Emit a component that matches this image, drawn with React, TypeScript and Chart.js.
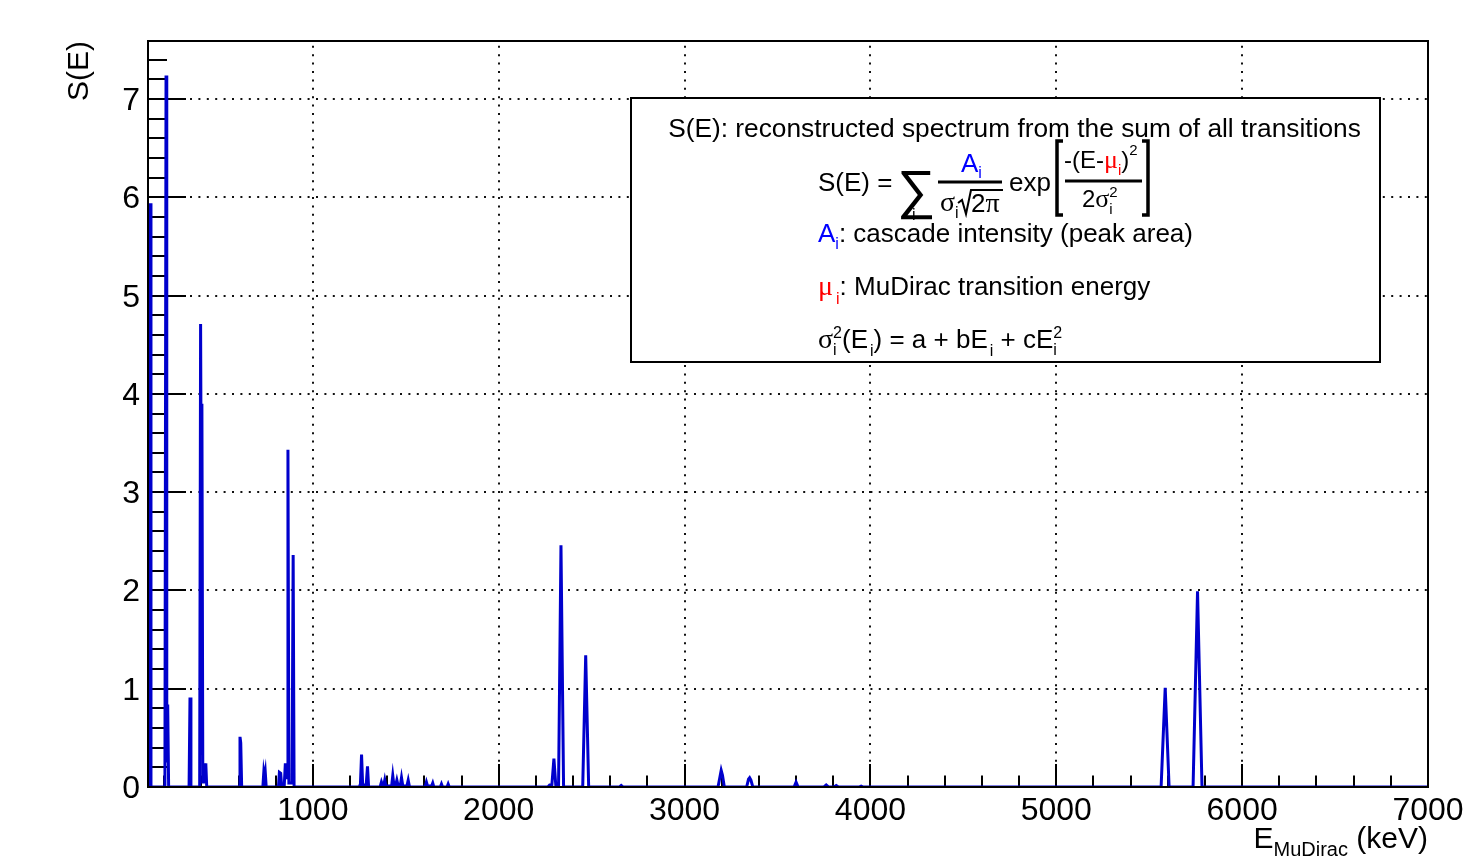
import React, { useEffect, useRef } from "react";
import { Chart, registerables } from "chart.js";
Chart.register(...registerables);

// ---- data ----
const energyKeV = [
  113, 118, 124, 129, 204, 210, 214, 219, 224, 334, 339, 344, 391, 396, 400, 403, 408, 412, 416, 420, 424, 429,
  603, 608, 612, 617, 731, 736, 740, 744, 749, 815, 820, 827, 832, 846, 852, 857, 861, 866, 871, 888, 894, 899,
  1250, 1256, 1262, 1268, 1287, 1294, 1300, 1362, 1369, 1376, 1381, 1387, 1393, 1424, 1430, 1436, 1446, 1452, 1458,
  1471, 1477, 1484, 1506, 1513, 1520, 1604, 1611, 1617, 1639, 1645, 1651, 1686, 1692, 1698, 1722, 1728, 1734,
  2264, 2274, 2286, 2297, 2307, 2322, 2335, 2349, 2452, 2468, 2484, 2650, 2659, 2668,
  3180, 3190, 3197, 3204, 3214, 3334, 3344, 3350, 3357, 3367, 3589, 3600, 3611, 3750, 3762, 3774, 3804, 3816, 3828,
  3938, 3950, 3962, 5564, 5586, 5607, 5736, 5760, 5784, 7000,
];
const spectrumS = [
  0, 0, 5.94, 0, 0, 7.24, 0.25, 0.84, 0, 0, 0.91, 0, 0, 4.71, 2.6, 3.9, 0.05, 0.05, 0.24, 0.18, 0.24, 0,
  0, 0.51, 0.45, 0, 0, 0.15, 0.1, 0.15, 0, 0, 0.15, 0.14, 0.01, 0.01, 0.24, 0.08, 0.2, 3.43, 0.04, 0.04, 2.36, 0,
  0, 0.03, 0.33, 0.02, 0.02, 0.21, 0, 0, 0.05, 0.01, 0.01, 0.07, 0.01, 0.01, 0.115, 0.02, 0.02, 0.07, 0.02,
  0.02, 0.095, 0.01, 0.01, 0.07, 0, 0, 0.05, 0.01, 0.01, 0.04, 0, 0, 0.03, 0, 0, 0.03, 0,
  0, 0.02, 0.02, 0.29, 0.02, 0.02, 2.46, 0, 0, 1.34, 0, 0, 0.015, 0,
  0, 0.1, 0.17, 0.12, 0, 0, 0.08, 0.095, 0.07, 0, 0, 0.05, 0, 0, 0.02, 0, 0, 0.015, 0,
  0, 0.01, 0, 0, 1.01, 0, 0, 1.99, 0, 0,
];
const xTickValues = [1000, 2000, 3000, 4000, 5000, 6000, 7000];
const xTickLabels = ["1000", "2000", "3000", "4000", "5000", "6000", "7000"];
const yTickValues = [0, 1, 2, 3, 4, 5, 6, 7];
const yTickLabels = ["0", "1", "2", "3", "4", "5", "6", "7"];
const X_MIN = 113;
const X_MAX = 7000;
const Y_MIN = 0;
const Y_MAX = 7.59;
const X_MINOR = 200;
const Y_MINOR = 0.2;

const FONT = '"Liberation Sans", Arial, Helvetica, sans-serif';
const SERIF = '"Liberation Serif", "Times New Roman", serif';
const BLUE = "#0000cc";

type Seg = { t: string; c?: string; s?: number; dy?: number; f?: string; adv?: boolean; dx?: number };
function drawRich(ctx: CanvasRenderingContext2D, x: number, y: number, segs: Seg[]) {
  let cx = x;
  for (const g of segs) {
    ctx.font = `${g.s ?? 26}px ${g.f ?? FONT}`;
    ctx.fillStyle = g.c ?? "#000";
    cx += g.dx ?? 0;
    ctx.fillText(g.t, cx, y + (g.dy ?? 0));
    if (g.adv !== false) cx += ctx.measureText(g.t).width;
  }
  return cx;
}

function seg(ctx: CanvasRenderingContext2D, x1: number, y1: number, x2: number, y2: number) {
  ctx.beginPath();
  ctx.moveTo(x1, y1);
  ctx.lineTo(x2, y2);
  ctx.stroke();
}

const rootStyle = {
  id: "rootStyle",
  beforeDatasetsDraw(chart: any) {
    const { ctx, chartArea: a, scales } = chart;
    const x = scales.x;
    const y = scales.y;
    ctx.save();
    // dotted grid
    ctx.strokeStyle = "#111";
    ctx.lineWidth = 2;
    ctx.setLineDash([2, 6.4]);
    for (const v of xTickValues) {
      if (v <= X_MIN || v >= X_MAX) continue;
      const px = Math.round(x.getPixelForValue(v));
      seg(ctx, px, a.bottom, px, a.top);
    }
    for (const v of yTickValues) {
      if (v <= Y_MIN || v >= Y_MAX) continue;
      const py = Math.round(y.getPixelForValue(v));
      seg(ctx, a.left, py, a.right, py);
    }
    ctx.setLineDash([]);
    // ticks
    ctx.strokeStyle = "#000";
    ctx.lineWidth = 2;
    const xMajorLen = 23, xMinorLen = 11.5, yMajorLen = 38, yMinorLen = 19;
    for (let v = Math.ceil(X_MIN / X_MINOR) * X_MINOR; v <= X_MAX; v += X_MINOR) {
      const px = Math.round(x.getPixelForValue(v));
      const major = v % 1000 === 0;
      seg(ctx, px, a.bottom, px, a.bottom - (major ? xMajorLen : xMinorLen));
    }
    for (let i = 0; i * Y_MINOR <= Y_MAX; i++) {
      const v = i * Y_MINOR;
      const py = Math.round(y.getPixelForValue(v));
      const major = i % 5 === 0;
      seg(ctx, a.left, py, a.left + (major ? yMajorLen : yMinorLen), py);
    }
    ctx.restore();
  },
  afterDatasetsDraw(chart: any) {
    const { ctx, chartArea: a, scales } = chart;
    const x = scales.x;
    const y = scales.y;
    ctx.save();
    ctx.strokeStyle = "#000";
    ctx.lineWidth = 2;
    ctx.strokeRect(a.left, a.top, a.right - a.left, a.bottom - a.top);
    // tick labels
    ctx.fillStyle = "#000";
    ctx.font = `32px ${FONT}`;
    ctx.textAlign = "center";
    ctx.textBaseline = "alphabetic";
    xTickValues.forEach((v, i) => {
      ctx.fillText(xTickLabels[i], x.getPixelForValue(v), a.bottom + 33);
    });
    ctx.textAlign = "right";
    yTickValues.forEach((v, i) => {
      ctx.fillText(yTickLabels[i], a.left - 8, y.getPixelForValue(v) + 11);
    });
    // axis titles
    ctx.textAlign = "right";
    ctx.save();
    ctx.translate(88, a.top);
    ctx.rotate(-Math.PI / 2);
    ctx.font = `30px ${FONT}`;
    ctx.fillText("S(E)", 0, 0);
    ctx.restore();
    // x title: E_{MuDirac} (keV)
    ctx.textAlign = "left";
    ctx.font = `30px ${FONT}`;
    const w1 = ctx.measureText(" (keV)").width;
    ctx.font = `20px ${FONT}`;
    const w2 = ctx.measureText("MuDirac").width;
    ctx.font = `30px ${FONT}`;
    const w0 = ctx.measureText("E").width;
    const startX = a.right - w0 - w2 - w1;
    drawRich(ctx, startX, 848, [
      { t: "E", s: 30 },
      { t: "MuDirac", s: 20, dy: 8 },
      { t: " (keV)", s: 30 },
    ]);
    ctx.restore();
  },
  afterDraw(chart: any) {
    const { ctx } = chart;
    ctx.save();
    // legend pave
    const bx = 631, by = 98, bw = 749, bh = 264;
    ctx.fillStyle = "#fff";
    ctx.fillRect(bx, by, bw, bh);
    ctx.strokeStyle = "#000";
    ctx.lineWidth = 2;
    ctx.strokeRect(bx, by, bw, bh);
    ctx.textBaseline = "alphabetic";
    ctx.textAlign = "center";
    ctx.fillStyle = "#000";
    ctx.font = `26.3px ${FONT}`;
    ctx.fillText("S(E): reconstructed spectrum from the sum of all transitions", 1014.5, 137);
    ctx.textAlign = "left";

    // line 2 : formula
    drawRich(ctx, 818, 191, [{ t: "S(E) = ", s: 26 }]);
    ctx.font = `54px ${FONT}`;
    ctx.fillStyle = "#000";
    ctx.fillText("\u2211", 897, 208);
    drawRich(ctx, 912, 220, [{ t: "i", s: 16 }]);
    ctx.lineWidth = 3;
    seg(ctx, 938, 182, 1002, 182);
    drawRich(ctx, 961, 172, [
      { t: "A", s: 26, c: "#0000ff" },
      { t: "i", s: 16, c: "#0000ff", dy: 6 },
    ]);
    drawRich(ctx, 940, 211, [
      { t: "\u03c3", s: 28, f: SERIF },
      { t: "i", s: 16, dy: 7 },
    ]);
    // sqrt sign
    ctx.lineWidth = 2;
    ctx.beginPath();
    ctx.moveTo(958, 203);
    ctx.lineTo(962, 200);
    ctx.lineTo(966, 214);
    ctx.lineTo(971, 190);
    ctx.lineTo(1003, 190);
    ctx.stroke();
    drawRich(ctx, 971, 212, [
      { t: "2", s: 26 },
      { t: "\u03c0", s: 28, f: SERIF },
    ]);
    drawRich(ctx, 1009, 191, [{ t: "exp", s: 26 }]);
    // brackets
    ctx.lineWidth = 3.5;
    ctx.beginPath();
    ctx.moveTo(1063, 141);
    ctx.lineTo(1057, 141);
    ctx.lineTo(1057, 215);
    ctx.lineTo(1063, 215);
    ctx.stroke();
    ctx.beginPath();
    ctx.moveTo(1142, 141);
    ctx.lineTo(1148, 141);
    ctx.lineTo(1148, 215);
    ctx.lineTo(1142, 215);
    ctx.stroke();
    drawRich(ctx, 1064, 168, [
      { t: "-(E-", s: 24 },
      { t: "\u03bc", s: 26, f: SERIF, c: "#ff0000" },
      { t: "i", s: 15, dy: 7, c: "#ff0000" },
      { t: ")", s: 24 },
      { t: "2", s: 15, dy: -13 },
    ]);
    ctx.lineWidth = 3;
    seg(ctx, 1065, 181, 1142, 181);
    drawRich(ctx, 1082, 207, [
      { t: "2", s: 24 },
      { t: "\u03c3", s: 26, f: SERIF },
      { t: "i", s: 15, dy: 7, adv: false },
      { t: "2", s: 15, dy: -10 },
    ]);

    // line 3
    drawRich(ctx, 818, 242, [
      { t: "A", s: 26, c: "#0000ff" },
      { t: "i", s: 16, dy: 7, c: "#0000ff" },
      { t: ": cascade intensity (peak area)", s: 26 },
    ]);
    // line 4
    drawRich(ctx, 818, 295, [
      { t: "\u03bc", s: 28, f: SERIF, c: "#ff0000" },
      { t: "i", s: 16, dy: 9, dx: 3, c: "#ff0000" },
      { t: ": MuDirac transition energy", s: 26 },
    ]);
    // line 5
    drawRich(ctx, 818, 348, [
      { t: "\u03c3", s: 28, f: SERIF },
      { t: "i", s: 16, dy: 7, adv: false },
      { t: "2", s: 16, dy: -10 },
      { t: "(E", s: 26 },
      { t: "i", s: 16, dy: 8, dx: 2 },
      { t: ") = a + bE", s: 26 },
      { t: "i", s: 16, dy: 8, dx: 2 },
      { t: " + cE", s: 26 },
      { t: "i", s: 16, dy: 7, adv: false },
      { t: "2", s: 16, dy: -10 },
    ]);
    ctx.restore();
  },
};

export default function App() {
  const ref = useRef<HTMLCanvasElement | null>(null);
  useEffect(() => {
    if (!ref.current) return;
    const data = energyKeV.map((e, i) => ({ x: e, y: spectrumS[i] }));
    const chart = new Chart(ref.current, {
      type: "line",
      data: {
        datasets: [
          {
            data,
            borderColor: BLUE,
            borderWidth: 3,
            pointRadius: 0,
            tension: 0,
            fill: false,
          },
        ],
      },
      options: {
        animation: false,
        responsive: false,
        devicePixelRatio: 1,
        layout: { padding: { top: 41, right: 47, left: 0, bottom: 0 } },
        plugins: { legend: { display: false }, tooltip: { enabled: false } },
        scales: {
          x: {
            type: "linear",
            min: X_MIN,
            max: X_MAX,
            ticks: { display: false },
            grid: { display: false },
            border: { display: false },
            afterFit: (s: any) => {
              s.height = 77;
            },
          },
          y: {
            type: "linear",
            min: Y_MIN,
            max: Y_MAX,
            ticks: { display: false },
            grid: { display: false },
            border: { display: false },
            afterFit: (s: any) => {
              s.width = 148;
            },
          },
        },
      },
      plugins: [rootStyle],
    });
    return () => chart.destroy();
  }, []);
  return (
    <div style={{ position: "fixed", left: 0, top: 0, width: 1475, height: 864, background: "#fff" }}>
      <canvas ref={ref} width={1475} height={864} style={{ width: 1475, height: 864 }} />
    </div>
  );
}
